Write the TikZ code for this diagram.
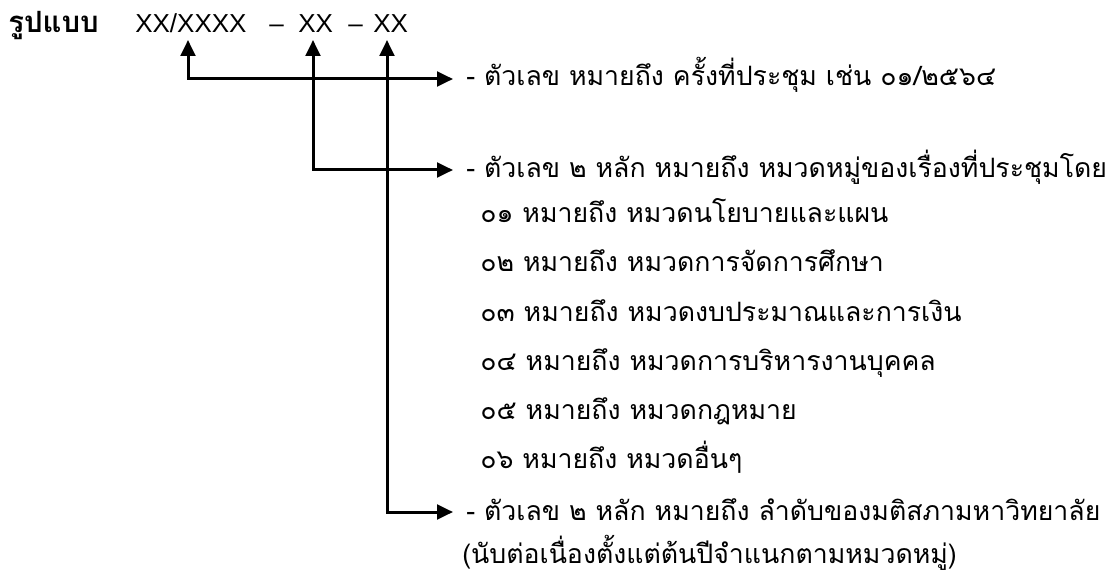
\documentclass[tikz,border=0pt]{standalone}
\usepackage{fontspec}
\setmainfont{Liberation Sans}
\newfontfamily\thai[Script=Thai]{Loma}
\usetikzlibrary{arrows.meta}
\begin{document}
\begin{tikzpicture}[x=0.75pt,y=-0.75pt,
  thaitxt/.style={anchor=base west, inner sep=0pt, font=\thai\fontsize{20}{24}\selectfont},
  xtxt/.style={anchor=base west, inner sep=0pt, font=\fontsize{19.5}{24}\selectfont},
  arr/.style={line width=2.25pt, {Triangle[length=12pt,width=11pt]}-{Triangle[length=12pt,width=11pt]}}]
\useasboundingbox (0,0) rectangle (1109,577);
% header
\node[thaitxt, font=\thai\bfseries\fontsize{22}{26}\selectfont] (title) at (8,33) {รูปแบบ};
\node[xtxt] (p1) at (135,33) {XX/XXXX};
\node[xtxt] (d1) at (269,33) {–};
\node[xtxt] (p2) at (298,33) {XX};
\node[xtxt] (d2) at (348,33) {–};
\node[xtxt] (p3) at (373,33) {XX};
% texts
\node[thaitxt] (i1) at (466,86) {- ตัวเลข หมายถึง ครั้งที่ประชุม เช่น ๐๑/๒๕๖๔};
\node[thaitxt] (i2) at (466,178) {- ตัวเลข ๒ หลัก หมายถึง หมวดหมู่ของเรื่องที่ประชุมโดย};
\node[thaitxt] (c1) at (480,223) {๐๑ หมายถึง หมวดนโยบายและแผน};
\node[thaitxt] (c2) at (480,272) {๐๒ หมายถึง หมวดการจัดการศึกษา};
\node[thaitxt] (c3) at (480,321) {๐๓ หมายถึง หมวดงบประมาณและการเงิน};
\node[thaitxt] (c4) at (480,370) {๐๔ หมายถึง หมวดการบริหารงานบุคคล};
\node[thaitxt] (c5) at (480,419) {๐๕ หมายถึง หมวดกฎหมาย};
\node[thaitxt] (c6) at (480,468) {๐๖ หมายถึง หมวดอื่นๆ};
\node[thaitxt] (i3) at (466,520) {- ตัวเลข ๒ หลัก หมายถึง ลำดับของมติสภามหาวิทยาลัย};
\node[thaitxt] (i3b) at (462,563) {(นับต่อเนื่องตั้งแต่ต้นปีจำแนกตามหมวดหมู่)};
% arrow ends
\coordinate (t1) at (188,40);
\coordinate (t2) at (313,40);
\coordinate (t3) at (387,40);
\coordinate (e1) at (453,79);
\coordinate (e2) at (453,170);
\coordinate (e3) at (453,512);
\draw[arr] (t1) |- (e1);
\draw[arr] (t2) |- (e2);
\draw[arr] (t3) |- (e3);
\end{tikzpicture}
\end{document}
